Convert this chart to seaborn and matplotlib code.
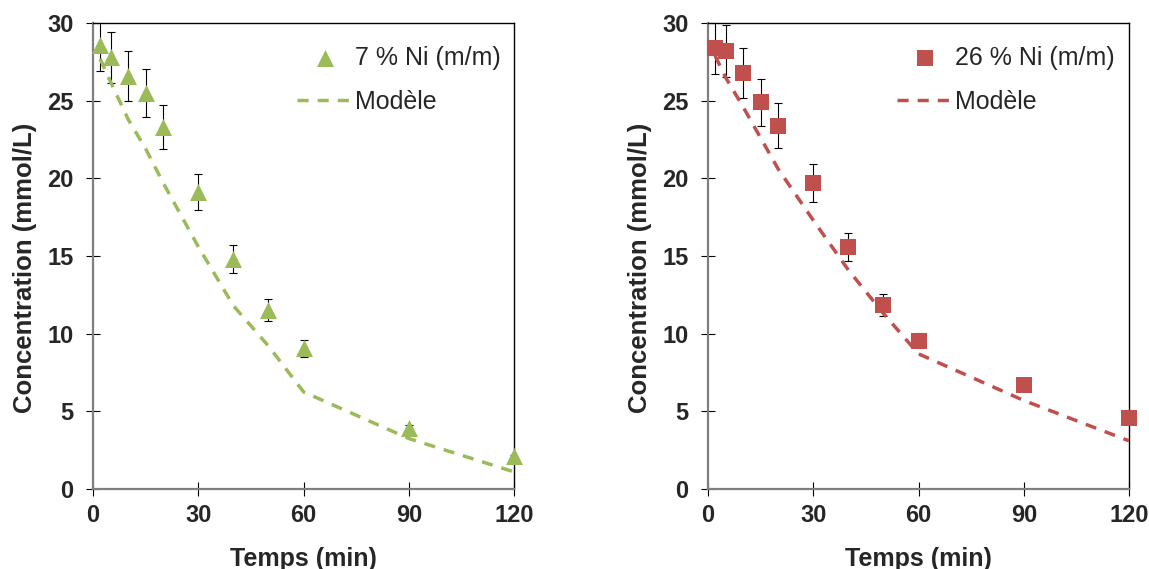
import numpy as np
import pandas as pd
import matplotlib
matplotlib.use("Agg")
import matplotlib.pyplot as plt
import seaborn as sns

# donnees
temps = [2, 5, 10, 15, 20, 30, 40, 50, 60, 90, 120]

conc_7 = [28.6, 27.8, 26.6, 25.5, 23.3, 19.1, 14.8, 11.5, 9.05, 3.9, 2.1]
err_7 = [1.7, 1.65, 1.6, 1.55, 1.4, 1.15, 0.9, 0.7, 0.55, 0.25, 0.1]
modele_7 = [27.7, 26.2, 23.8, 21.9, 19.7, 15.6, 11.8, 9.2, 6.25, 3.25, 1.1]

conc_26 = [28.4, 28.2, 26.8, 24.9, 23.4, 19.7, 15.6, 11.85, 9.55, 6.7, 4.55]
err_26 = [1.7, 1.65, 1.6, 1.5, 1.45, 1.2, 0.9, 0.7, 0.5, 0.1, 0.1]
modele_26 = [27.9, 26.5, 24.6, 22.6, 20.6, 17.3, 14.1, 11.3, 8.7, 5.7, 3.1]

labels = ["7 % Ni (m/m)", "26 % Ni (m/m)"]
colors = ["#9BBB59", "#C0504D"]
markers = ["^", "s"]

sns.set_theme(style="white")
plt.rcParams['font.family'] = ['Liberation Sans', 'DejaVu Sans']

fig = plt.figure(figsize=(11.49, 5.69), dpi=100)
ax1 = fig.add_axes([0.081, 0.1406, 0.3664, 0.819])
ax2 = fig.add_axes([0.6162, 0.1406, 0.3664, 0.819])

series = [(ax1, conc_7, err_7, modele_7), (ax2, conc_26, err_26, modele_26)]
leg_x = [0.485, 0.449]

for i, (ax, conc, err, mod) in enumerate(series):
    df = pd.DataFrame({"Temps": temps, "Conc": conc, "Err": err, "Modele": mod})

    ax.errorbar(df.Temps, df.Conc, yerr=df.Err, fmt="none", ecolor="black",
                elinewidth=0.8, capsize=3.2, capthick=0.8, zorder=2)
    sns.lineplot(data=df, x="Temps", y="Modele", ax=ax, color=colors[i],
                 lw=2.5, linestyle=(0, (3.2, 2.6)), label="Modèle", zorder=3)
    sns.scatterplot(data=df, x="Temps", y="Conc", ax=ax, marker=markers[i],
                    s=150 if i == 0 else 121, color=colors[i], edgecolor=colors[i],
                    linewidth=0, label=labels[i], zorder=4, clip_on=False)

    ax.set_xlim(0, 120)
    ax.set_ylim(0, 30)
    ax.set_xticks([0, 30, 60, 90, 120])
    ax.set_yticks([0, 5, 10, 15, 20, 25, 30])
    ax.tick_params(direction="inout", length=10, width=0.8, color="black",
                   labelsize=17, bottom=True, left=True)
    ax.tick_params(axis="y", pad=9)
    ax.tick_params(axis="x", pad=6)
    for lab in ax.get_xticklabels() + ax.get_yticklabels():
        lab.set_fontweight("bold")
    ax.set_xlabel("Temps (min)", fontsize=18, fontweight="bold")
    ax.set_ylabel("Concentration (mmol/L)", fontsize=18.5, fontweight="bold")
    ax.xaxis.set_label_coords(0.5, -0.125)
    ax.yaxis.set_label_coords(-0.132, 0.474)

    for side in ["left", "bottom"]:
        ax.spines[side].set_color("#7f7f7f")
        ax.spines[side].set_linewidth(1.6)
    for side in ["top", "right"]:
        ax.spines[side].set_color("black")
        ax.spines[side].set_linewidth(1.0)

    handles, labs = ax.get_legend_handles_labels()
    order = [labs.index(labels[i]), labs.index("Modèle")]
    ax.legend([handles[k] for k in order], [labs[k] for k in order],
              loc="upper left", bbox_to_anchor=(leg_x[i], 0.951), frameon=False,
              fontsize=18, handlelength=2.2, handletextpad=0.12,
              labelspacing=0.8, borderpad=0, borderaxespad=0)

fig.savefig("out.png", dpi=100)
